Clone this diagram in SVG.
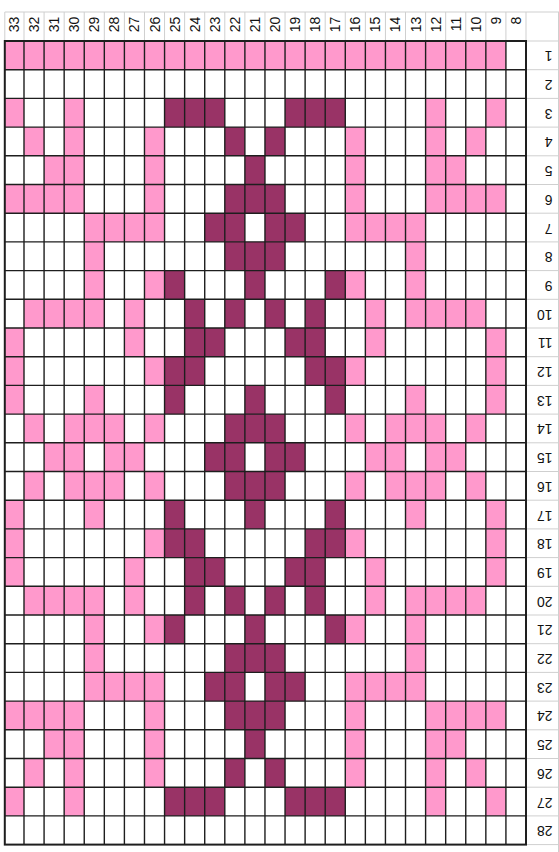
<svg xmlns="http://www.w3.org/2000/svg" width="559" height="852" viewBox="0 0 559 852">
<style>
.p{fill:#ff99cc}
.d{fill:#993366}
.g{stroke:#1e1e1e;stroke-width:1.4;fill:none}
.o{stroke:#1e1e1e;stroke-width:2;fill:none}
.l{stroke:#cfcfcf;stroke-width:1;fill:none}
.t{font-family:"Liberation Sans",Arial,sans-serif;font-size:14px;fill:#111}
.h{text-anchor:end;dominant-baseline:central}
.r{text-anchor:start;dominant-baseline:central}
</style>
<defs>
<g id="r3"><rect class="p" x="4.8" width="19.2" height="28.7"/><rect class="p" x="64.16" width="20.08" height="28.7"/><rect class="p" x="425.6" width="20.08" height="28.7"/><rect class="p" x="485.84" width="20.08" height="28.7"/><rect class="d" x="164.56" width="60.24" height="28.7"/><rect class="d" x="285.04" width="60.24" height="28.7"/></g>
<g id="r4"><rect class="p" x="24" width="20.08" height="28.7"/><rect class="p" x="64.16" width="20.08" height="28.7"/><rect class="p" x="144.48" width="20.08" height="28.7"/><rect class="p" x="345.28" width="20.08" height="28.7"/><rect class="p" x="425.6" width="20.08" height="28.7"/><rect class="p" x="465.76" width="20.08" height="28.7"/><rect class="d" x="224.8" width="20.08" height="28.7"/><rect class="d" x="264.96" width="20.08" height="28.7"/></g>
<g id="r5"><rect class="p" x="44.08" width="40.16" height="28.7"/><rect class="p" x="144.48" width="20.08" height="28.7"/><rect class="p" x="345.28" width="20.08" height="28.7"/><rect class="p" x="425.6" width="40.16" height="28.7"/><rect class="d" x="244.88" width="20.08" height="28.7"/></g>
<g id="r6"><rect class="p" x="4.8" width="79.44" height="28.7"/><rect class="p" x="144.48" width="20.08" height="28.7"/><rect class="p" x="345.28" width="20.08" height="28.7"/><rect class="p" x="425.6" width="80.32" height="28.7"/><rect class="d" x="224.8" width="60.24" height="28.7"/></g>
<g id="r7"><rect class="p" x="84.24" width="80.32" height="28.7"/><rect class="p" x="345.28" width="80.32" height="28.7"/><rect class="d" x="204.72" width="40.16" height="28.7"/><rect class="d" x="264.96" width="40.16" height="28.7"/></g>
<g id="r8"><rect class="p" x="84.24" width="20.08" height="28.7"/><rect class="p" x="405.52" width="20.08" height="28.7"/><rect class="d" x="224.8" width="60.24" height="28.7"/></g>
<g id="r9"><rect class="p" x="84.24" width="20.08" height="28.7"/><rect class="p" x="144.48" width="20.08" height="28.7"/><rect class="p" x="345.28" width="20.08" height="28.7"/><rect class="p" x="405.52" width="20.08" height="28.7"/><rect class="d" x="164.56" width="20.08" height="28.7"/><rect class="d" x="244.88" width="20.08" height="28.7"/><rect class="d" x="325.2" width="20.08" height="28.7"/></g>
<g id="r10"><rect class="p" x="24" width="80.32" height="28.7"/><rect class="p" x="124.4" width="20.08" height="28.7"/><rect class="p" x="365.36" width="20.08" height="28.7"/><rect class="p" x="405.52" width="80.32" height="28.7"/><rect class="d" x="184.64" width="20.08" height="28.7"/><rect class="d" x="224.8" width="20.08" height="28.7"/><rect class="d" x="264.96" width="20.08" height="28.7"/><rect class="d" x="305.12" width="20.08" height="28.7"/></g>
<g id="r11"><rect class="p" x="4.8" width="19.2" height="28.7"/><rect class="p" x="124.4" width="20.08" height="28.7"/><rect class="p" x="365.36" width="20.08" height="28.7"/><rect class="p" x="485.84" width="20.08" height="28.7"/><rect class="d" x="184.64" width="40.16" height="28.7"/><rect class="d" x="285.04" width="40.16" height="28.7"/></g>
<g id="r12"><rect class="p" x="4.8" width="19.2" height="28.7"/><rect class="p" x="144.48" width="20.08" height="28.7"/><rect class="p" x="345.28" width="20.08" height="28.7"/><rect class="p" x="485.84" width="20.08" height="28.7"/><rect class="d" x="164.56" width="40.16" height="28.7"/><rect class="d" x="305.12" width="40.16" height="28.7"/></g>
<g id="r13"><rect class="p" x="4.8" width="19.2" height="28.7"/><rect class="p" x="84.24" width="20.08" height="28.7"/><rect class="p" x="405.52" width="20.08" height="28.7"/><rect class="p" x="485.84" width="20.08" height="28.7"/><rect class="d" x="164.56" width="20.08" height="28.7"/><rect class="d" x="244.88" width="20.08" height="28.7"/><rect class="d" x="325.2" width="20.08" height="28.7"/></g>
<g id="r14"><rect class="p" x="24" width="20.08" height="28.7"/><rect class="p" x="64.16" width="60.24" height="28.7"/><rect class="p" x="144.48" width="20.08" height="28.7"/><rect class="p" x="345.28" width="20.08" height="28.7"/><rect class="p" x="385.44" width="60.24" height="28.7"/><rect class="p" x="465.76" width="20.08" height="28.7"/><rect class="d" x="224.8" width="60.24" height="28.7"/></g>
<g id="r15"><rect class="p" x="44.08" width="40.16" height="28.7"/><rect class="p" x="104.32" width="40.16" height="28.7"/><rect class="p" x="365.36" width="40.16" height="28.7"/><rect class="p" x="425.6" width="40.16" height="28.7"/><rect class="d" x="204.72" width="40.16" height="28.7"/><rect class="d" x="264.96" width="40.16" height="28.7"/></g>
</defs>
<rect width="559" height="852" fill="#ffffff"/>
<g id="cells">
<rect class="p" x="4.8" y="41" width="501.12" height="28.7"/>
<use href="#r3" y="98.4"/>
<use href="#r4" y="127.1"/>
<use href="#r5" y="155.8"/>
<use href="#r6" y="184.5"/>
<use href="#r7" y="213.2"/>
<use href="#r8" y="241.9"/>
<use href="#r9" y="270.6"/>
<use href="#r10" y="299.3"/>
<use href="#r11" y="328"/>
<use href="#r12" y="356.7"/>
<use href="#r13" y="385.4"/>
<use href="#r14" y="414.1"/>
<use href="#r15" y="442.8"/>
<use href="#r14" y="471.5"/>
<use href="#r13" y="500.2"/>
<use href="#r12" y="528.9"/>
<use href="#r11" y="557.6"/>
<use href="#r10" y="586.3"/>
<use href="#r9" y="615"/>
<use href="#r8" y="643.7"/>
<use href="#r7" y="672.4"/>
<use href="#r6" y="701.1"/>
<use href="#r5" y="729.8"/>
<use href="#r4" y="758.5"/>
<use href="#r3" y="787.2"/>
</g>
<g id="light-lines" class="l">
<path d="M4.8 12H559 M4.8 12V41 M24 12V41 M44.08 12V41 M64.16 12V41 M84.24 12V41 M104.32 12V41 M124.4 12V41 M144.48 12V41 M164.56 12V41 M184.64 12V41 M204.72 12V41 M224.8 12V41 M244.88 12V41 M264.96 12V41 M285.04 12V41 M305.12 12V41 M325.2 12V41 M345.28 12V41 M365.36 12V41 M385.44 12V41 M405.52 12V41 M425.6 12V41 M445.68 12V41 M465.76 12V41 M485.84 12V41 M505.92 12V41 M526 12V41"/>
<path d="M526 41H559 M526 69.7H559 M526 98.4H559 M526 127.1H559 M526 155.8H559 M526 184.5H559 M526 213.2H559 M526 241.9H559 M526 270.6H559 M526 299.3H559 M526 328H559 M526 356.7H559 M526 385.4H559 M526 414.1H559 M526 442.8H559 M526 471.5H559 M526 500.2H559 M526 528.9H559 M526 557.6H559 M526 586.3H559 M526 615H559 M526 643.7H559 M526 672.4H559 M526 701.1H559 M526 729.8H559 M526 758.5H559 M526 787.2H559 M526 815.9H559 M526 844.6H559 M558.5 12V852"/>
</g>
<g id="grid">
<path class="g" d="M24 41V844.6 M44.08 41V844.6 M64.16 41V844.6 M84.24 41V844.6 M104.32 41V844.6 M124.4 41V844.6 M144.48 41V844.6 M164.56 41V844.6 M184.64 41V844.6 M204.72 41V844.6 M224.8 41V844.6 M244.88 41V844.6 M264.96 41V844.6 M285.04 41V844.6 M305.12 41V844.6 M325.2 41V844.6 M345.28 41V844.6 M365.36 41V844.6 M385.44 41V844.6 M405.52 41V844.6 M425.6 41V844.6 M445.68 41V844.6 M465.76 41V844.6 M485.84 41V844.6 M505.92 41V844.6"/>
<path class="g" d="M4.8 69.7H526 M4.8 98.4H526 M4.8 127.1H526 M4.8 155.8H526 M4.8 184.5H526 M4.8 213.2H526 M4.8 241.9H526 M4.8 270.6H526 M4.8 299.3H526 M4.8 328H526 M4.8 356.7H526 M4.8 385.4H526 M4.8 414.1H526 M4.8 442.8H526 M4.8 471.5H526 M4.8 500.2H526 M4.8 528.9H526 M4.8 557.6H526 M4.8 586.3H526 M4.8 615H526 M4.8 643.7H526 M4.8 672.4H526 M4.8 701.1H526 M4.8 729.8H526 M4.8 758.5H526 M4.8 787.2H526 M4.8 815.9H526"/>
<rect class="o" x="4.8" y="41" width="521.2" height="803.6"/>
</g>
<g id="column-numbers" class="t h">
<text x="14.4" y="16.7" transform="rotate(-90 14.4 16.7)">33</text>
<text x="34.04" y="16.7" transform="rotate(-90 34.04 16.7)">32</text>
<text x="54.12" y="16.7" transform="rotate(-90 54.12 16.7)">31</text>
<text x="74.2" y="16.7" transform="rotate(-90 74.2 16.7)">30</text>
<text x="94.28" y="16.7" transform="rotate(-90 94.28 16.7)">29</text>
<text x="114.36" y="16.7" transform="rotate(-90 114.36 16.7)">28</text>
<text x="134.44" y="16.7" transform="rotate(-90 134.44 16.7)">27</text>
<text x="154.52" y="16.7" transform="rotate(-90 154.52 16.7)">26</text>
<text x="174.6" y="16.7" transform="rotate(-90 174.6 16.7)">25</text>
<text x="194.68" y="16.7" transform="rotate(-90 194.68 16.7)">24</text>
<text x="214.76" y="16.7" transform="rotate(-90 214.76 16.7)">23</text>
<text x="234.84" y="16.7" transform="rotate(-90 234.84 16.7)">22</text>
<text x="254.92" y="16.7" transform="rotate(-90 254.92 16.7)">21</text>
<text x="275" y="16.7" transform="rotate(-90 275 16.7)">20</text>
<text x="295.08" y="16.7" transform="rotate(-90 295.08 16.7)">19</text>
<text x="315.16" y="16.7" transform="rotate(-90 315.16 16.7)">18</text>
<text x="335.24" y="16.7" transform="rotate(-90 335.24 16.7)">17</text>
<text x="355.32" y="16.7" transform="rotate(-90 355.32 16.7)">16</text>
<text x="375.4" y="16.7" transform="rotate(-90 375.4 16.7)">15</text>
<text x="395.48" y="16.7" transform="rotate(-90 395.48 16.7)">14</text>
<text x="415.56" y="16.7" transform="rotate(-90 415.56 16.7)">13</text>
<text x="435.64" y="16.7" transform="rotate(-90 435.64 16.7)">12</text>
<text x="455.72" y="16.7" transform="rotate(-90 455.72 16.7)">11</text>
<text x="475.8" y="16.7" transform="rotate(-90 475.8 16.7)">10</text>
<text x="495.88" y="16.7" transform="rotate(-90 495.88 16.7)">9</text>
<text x="515.96" y="16.7" transform="rotate(-90 515.96 16.7)">8</text>
</g>
<g id="row-numbers" class="t r">
<text x="552.5" y="56.35" transform="rotate(180 552.5 56.35)">1</text>
<text x="552.5" y="85.05" transform="rotate(180 552.5 85.05)">2</text>
<text x="552.5" y="113.75" transform="rotate(180 552.5 113.75)">3</text>
<text x="552.5" y="142.45" transform="rotate(180 552.5 142.45)">4</text>
<text x="552.5" y="171.15" transform="rotate(180 552.5 171.15)">5</text>
<text x="552.5" y="199.85" transform="rotate(180 552.5 199.85)">6</text>
<text x="552.5" y="228.55" transform="rotate(180 552.5 228.55)">7</text>
<text x="552.5" y="257.25" transform="rotate(180 552.5 257.25)">8</text>
<text x="552.5" y="285.95" transform="rotate(180 552.5 285.95)">9</text>
<text x="552.5" y="314.65" transform="rotate(180 552.5 314.65)">10</text>
<text x="552.5" y="343.35" transform="rotate(180 552.5 343.35)">11</text>
<text x="552.5" y="372.05" transform="rotate(180 552.5 372.05)">12</text>
<text x="552.5" y="400.75" transform="rotate(180 552.5 400.75)">13</text>
<text x="552.5" y="429.45" transform="rotate(180 552.5 429.45)">14</text>
<text x="552.5" y="458.15" transform="rotate(180 552.5 458.15)">15</text>
<text x="552.5" y="486.85" transform="rotate(180 552.5 486.85)">16</text>
<text x="552.5" y="515.55" transform="rotate(180 552.5 515.55)">17</text>
<text x="552.5" y="544.25" transform="rotate(180 552.5 544.25)">18</text>
<text x="552.5" y="572.95" transform="rotate(180 552.5 572.95)">19</text>
<text x="552.5" y="601.65" transform="rotate(180 552.5 601.65)">20</text>
<text x="552.5" y="630.35" transform="rotate(180 552.5 630.35)">21</text>
<text x="552.5" y="659.05" transform="rotate(180 552.5 659.05)">22</text>
<text x="552.5" y="687.75" transform="rotate(180 552.5 687.75)">23</text>
<text x="552.5" y="716.45" transform="rotate(180 552.5 716.45)">24</text>
<text x="552.5" y="745.15" transform="rotate(180 552.5 745.15)">25</text>
<text x="552.5" y="773.85" transform="rotate(180 552.5 773.85)">26</text>
<text x="552.5" y="802.55" transform="rotate(180 552.5 802.55)">27</text>
<text x="552.5" y="831.25" transform="rotate(180 552.5 831.25)">28</text>
</g>
</svg>
